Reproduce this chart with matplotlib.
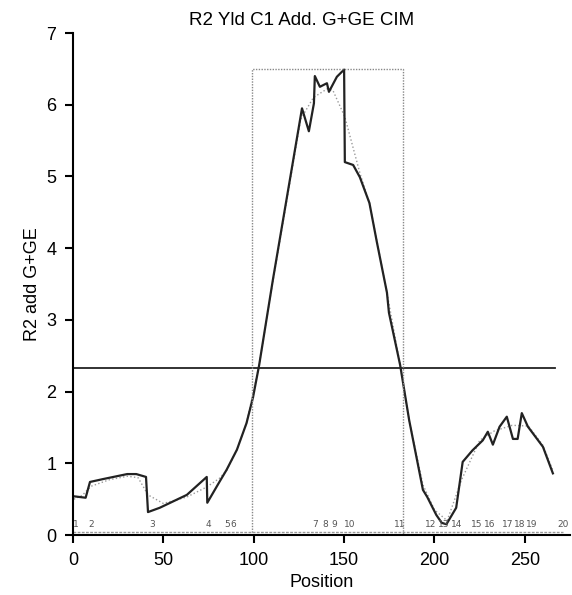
import matplotlib
matplotlib.use('Agg')
import matplotlib.pyplot as plt

plt.rcParams['font.family'] = ['Liberation Sans', 'DejaVu Sans']

# CIM profile (black)
cim_pos = [0.5, 7, 9.4, 16.6, 30, 35, 40.4, 41.5, 48, 63, 74, 74.3, 81, 85, 90.7, 96,
           99.6, 103, 110.6, 126.7, 130.5, 133.3, 133.8, 136.6, 140.5, 141.6, 146, 150,
           150.4, 155, 158.7, 164, 168, 173.7, 174.8, 181, 186, 193.6, 196, 201, 204, 206.6,
           212, 215.6, 221, 226.7, 229.5, 232.3, 236, 240, 243.4, 246, 248.3, 251.7,
           260, 265.5]
cim_lod = [0.54, 0.52, 0.74, 0.78, 0.85, 0.85, 0.81, 0.32, 0.38, 0.56, 0.81, 0.45, 0.74,
           0.91, 1.19, 1.56, 1.92, 2.37, 3.56, 5.95, 5.63, 6.02, 6.4, 6.25, 6.3, 6.18, 6.39,
           6.49, 5.2, 5.16, 4.99, 4.63, 4.1, 3.38, 3.1, 2.37, 1.6, 0.63, 0.53, 0.28, 0.17,
           0.15, 0.38, 1.02, 1.18, 1.32, 1.44, 1.26, 1.51, 1.65, 1.34, 1.34, 1.7, 1.51,
           1.23, 0.86]

# smoothed profile (grey dotted)
smooth_pos = [0.5, 5, 10, 20, 30, 36, 41.5, 50, 63, 74, 81, 85, 90.7, 96, 103, 110, 126,
              133, 140.5, 143.8, 150.4, 158.7, 164, 173.7, 181, 186, 193.6, 200, 207,
              215, 225, 233, 243, 252, 260, 265.5]
smooth_lod = [0.5, 0.55, 0.68, 0.77, 0.82, 0.8, 0.56, 0.44, 0.53, 0.67, 0.79, 0.9, 1.19,
              1.56, 2.37, 3.45, 5.8, 6.1, 6.22, 6.2, 5.83, 5.05, 4.63, 3.38, 2.37, 1.6,
              0.7, 0.35, 0.2, 0.77, 1.32, 1.45, 1.53, 1.52, 1.25, 0.9]

threshold = 2.33
interval = (99, 182.5, 6.5)

marker_pos = [1.5, 10, 44, 75, 85.3, 88.7, 134, 139.5, 144.5, 153, 181, 198, 205, 212,
              223.5, 230.5, 240.5, 247, 254, 271]
marker_lbl = [str(i) for i in range(1, 21)]

fig = plt.figure(figsize=(5.72, 5.95), dpi=100)
ax = fig.add_axes([0.1276, 0.1008, 0.869, 0.8437])

ax.plot(smooth_pos, smooth_lod, color='#999999', lw=1.0, ls=':')
ax.plot(cim_pos, cim_lod, color='#222222', lw=1.6)
ax.axhline(threshold, xmin=0, xmax=266.5 / 275, color='#222222', lw=1.3)

x0, x1, top = interval
ax.plot([x0, x0, x1, x1], [0, top, top, 0], color='#888888', lw=1.0, ls=(0, (1, 1)))

ax.plot([0, 271], [0.04, 0.04], color='#999999', lw=1.0, ls=(0, (2, 1)))
for p, s in zip(marker_pos, marker_lbl):
    ax.text(p, 0.08, s, ha='center', va='bottom', fontsize=6.5, color='#555555',
            family=['Liberation Sans Narrow', 'DejaVu Sans'])

ax.set_xlim(0, 275)
ax.set_ylim(0, 7)
ax.set_xticks([0, 50, 100, 150, 200, 250])
ax.set_yticks(range(8))
ax.spines['top'].set_visible(False)
ax.spines['right'].set_visible(False)
ax.spines['left'].set_linewidth(1.5)
ax.spines['bottom'].set_linewidth(1.5)
ax.tick_params(direction='out', length=6, width=1.5, labelsize=13, pad=6)
ax.set_xlabel('Position', fontsize=13)
ax.set_ylabel('R2 add G+GE', fontsize=13)

fig.text(0.528, 0.965, 'R2 Yld C1 Add. G+GE CIM', ha='center', va='center', fontsize=13.5)

fig.savefig('out.png', dpi=100)
